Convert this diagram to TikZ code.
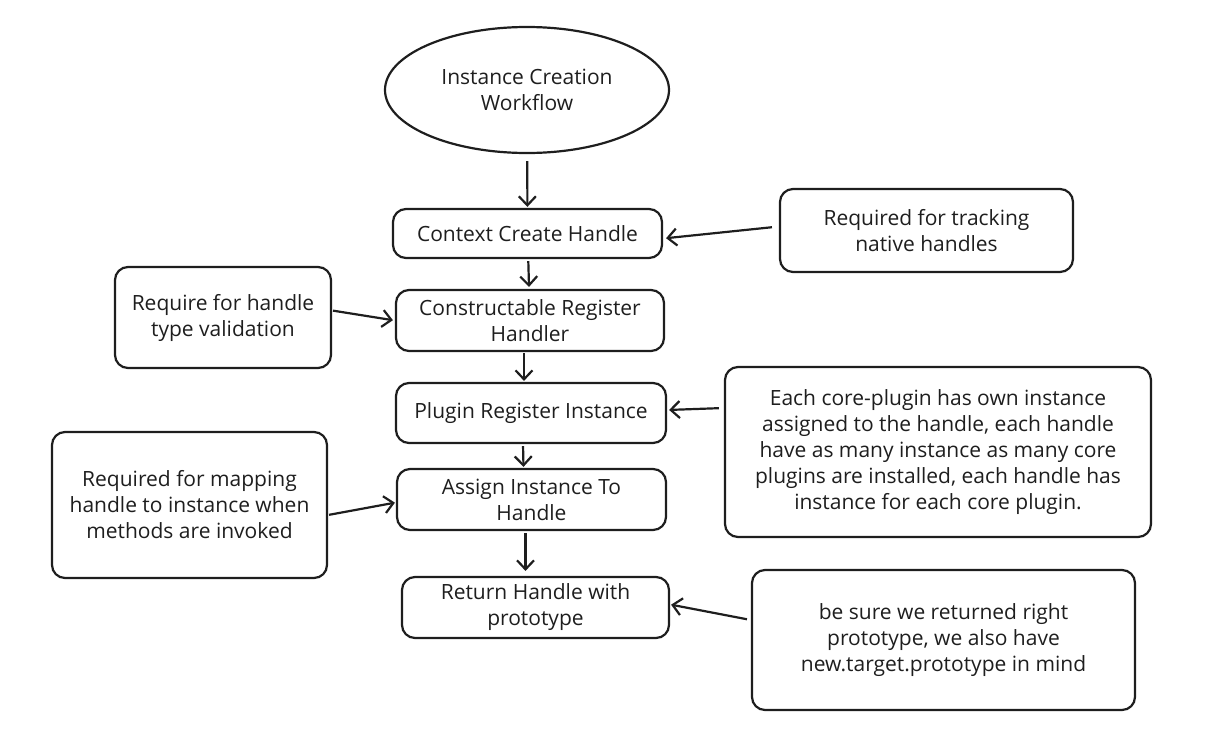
\documentclass[tikz,border=0pt]{standalone}
\usepackage{fontspec}
\setmainfont{Open Sans}
\usetikzlibrary{arrows.meta,shapes.geometric}
\definecolor{ink}{HTML}{1E1E1E}
\tikzset{
  x=1pt,y=-1pt,
  box/.style={draw=ink,line width=2.2pt,rounded corners=13pt,align=center,text=ink,inner sep=0pt,
    font=\fontsize{21}{26}\selectfont},
  oval/.style={draw=ink,line width=2.2pt,ellipse,align=center,text=ink,inner sep=0pt,
    font=\fontsize{21}{26}\selectfont},
  conn/.style={draw=ink,line width=2.2pt,-{Straight Barb[length=9pt,width=17pt,line width=2.2pt]}},
}
\begin{document}
\begin{tikzpicture}
\useasboundingbox (0,0) rectangle (1205,747);
\node[oval,minimum width=284pt,minimum height=126pt] (ell) at (527,90) {Instance Creation\\Workflow};
\node[box,minimum width=269pt,minimum height=49pt] (ctx) at (527.5,233.5) {Context Create Handle};
\node[box,minimum width=268pt,minimum height=61pt] (con) at (530,320.5) {Constructable Register\\Handler};
\node[box,minimum width=270pt,minimum height=60pt] (plg) at (531,413) {Plugin Register Instance};
\node[box,minimum width=269pt,minimum height=61pt] (asg) at (531.5,499.5) {Assign Instance To\\Handle};
\node[box,minimum width=267pt,minimum height=61pt] (ret) at (535.5,607.5) {Return Handle with\\prototype};
\node[box,minimum width=216pt,minimum height=101pt] (req1) at (223,317.5) {Require for handle\\type validation};
\node[box,minimum width=275pt,minimum height=146pt] (req2) at (189.5,505) {Required for mapping\\handle to instance when\\methods are invoked};
\node[box,minimum width=293pt,minimum height=83pt] (trk) at (926.5,230.5) {Required for tracking\\native handles};
\node[box,minimum width=426pt,minimum height=170pt] (core) at (938,452) {Each core-plugin has own instance\\assigned to the handle, each handle\\have as many instance as many core\\plugins are installed, each handle has\\instance for each core plugin.};
\node[box,minimum width=383pt,minimum height=140pt] (sure) at (943.5,640) {be sure we returned right\\prototype, we also have\\new.target.prototype in mind};

\draw[conn,shorten <=7pt,shorten >=1pt] (ell) -- (ctx);
\draw[conn,shorten <=2pt,shorten >=2pt] (ctx) -- (con);
\draw[conn,shorten <=1pt,shorten >=1pt] ([xshift=-6pt]con.south) -- ([xshift=-7pt]plg.north);
\draw[conn,shorten <=2pt,shorten >=1pt] ([xshift=-8pt]plg.south) -- ([xshift=-8pt]asg.north);
\draw[conn,shorten <=2pt,shorten >=5pt] ([xshift=-6pt]asg.south) -- ([xshift=-10pt]ret.north);
\draw[conn,shorten <=1pt,shorten >=2pt] ([yshift=7pt]req1.east) -- (con.west);
\draw[conn,shorten <=1pt,shorten >=1pt] ([yshift=-10pt]req2.east) -- ([yshift=-3pt]asg.west);
\draw[conn,shorten <=7pt,shorten >=3pt] ([yshift=4pt]trk.west) -- ([yshift=-5pt]ctx.east);
\draw[conn,shorten <=5pt,shorten >=2pt] ([yshift=44pt]core.west) -- ([yshift=3pt]plg.east);
\draw[conn,shorten <=4pt,shorten >=1pt] ([yshift=20pt]sure.west) -- ([yshift=3pt]ret.east);
\end{tikzpicture}
\end{document}
